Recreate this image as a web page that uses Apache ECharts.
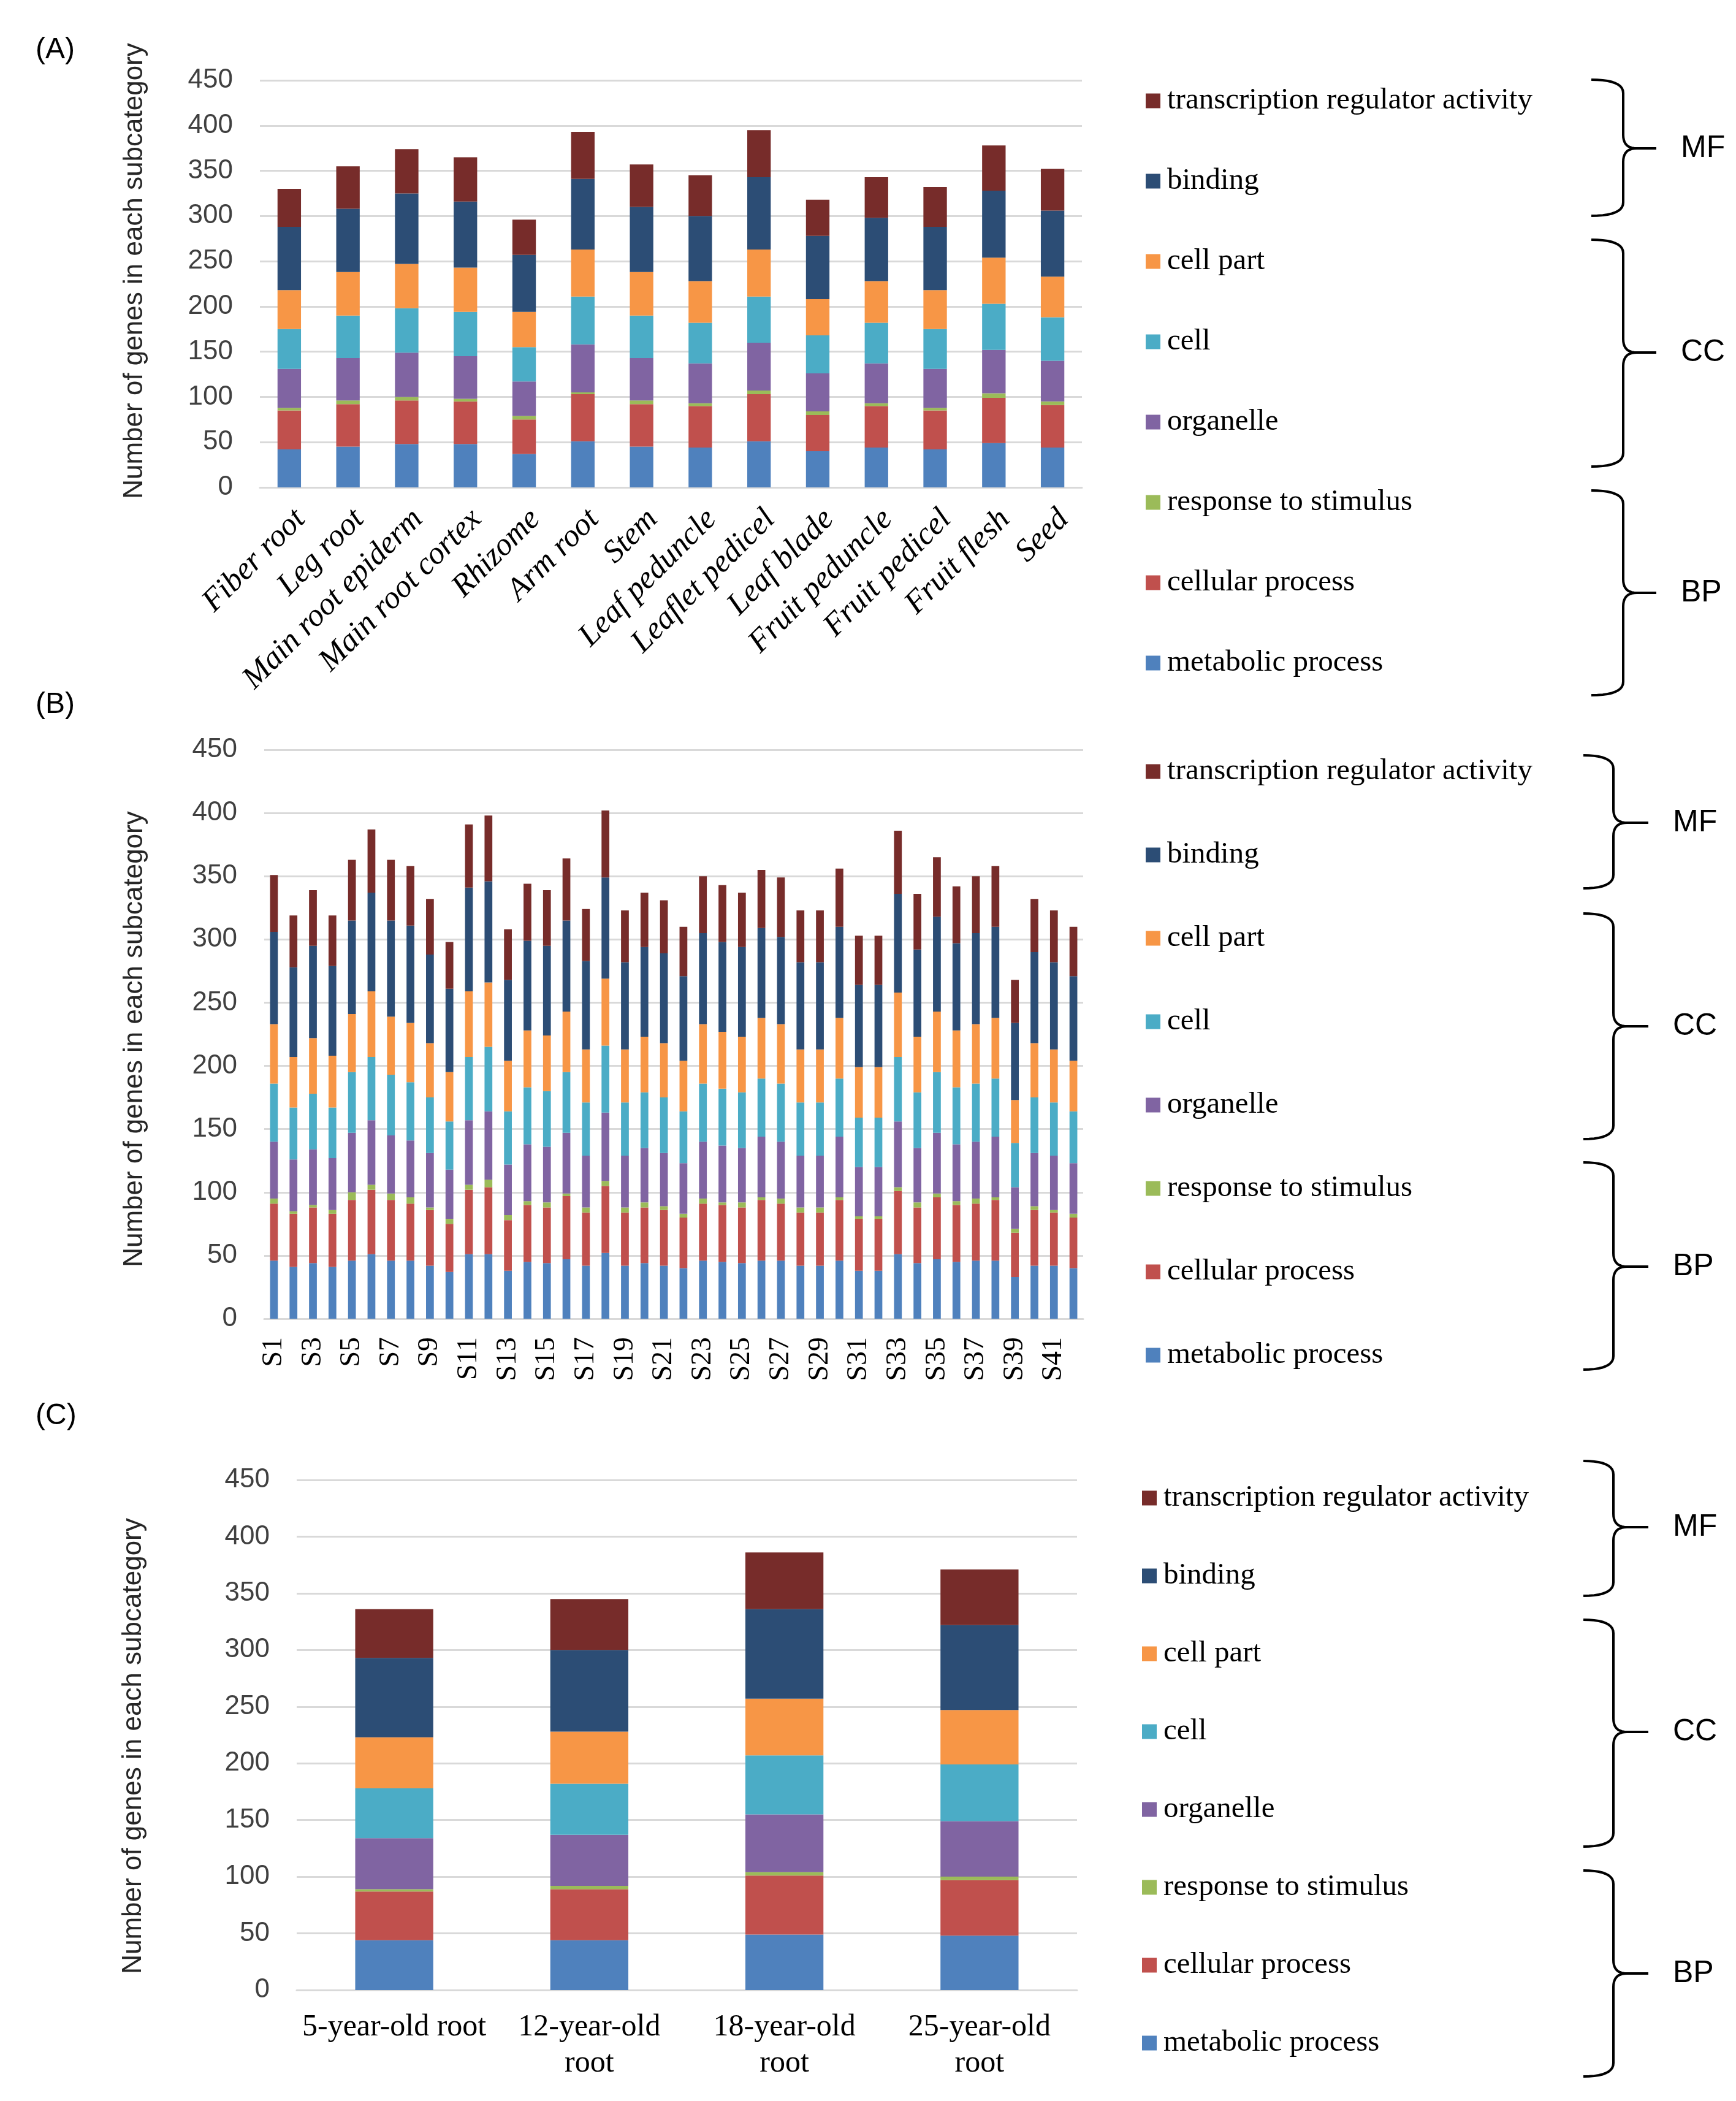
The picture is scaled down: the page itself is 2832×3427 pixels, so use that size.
<!DOCTYPE html>
<html>
<head>
<meta charset="utf-8">
<script src="https://cdn.jsdelivr.net/npm/echarts@6/dist/echarts.min.js"></script>
<style>html,body{margin:0;padding:0;background:#fff}#c{width:2832px;height:3427px}</style>
</head>
<body>
<div id="c"></div>
<script>
// ---------- data ----------
const seriesNames = ['metabolic process','cellular process','response to stimulus','organelle','cell','cell part','binding','transcription regulator activity'];
const legendOrder = ['transcription regulator activity','binding','cell part','cell','organelle','response to stimulus','cellular process','metabolic process'];
const yTicks = [0, 450, 50]; // min, max, interval

// Panel A
const categoriesA = ['Fiber root','Leg root','Main root epiderm','Main root cortex','Rhizome','Arm root','Stem','Leaf peduncle','Leaflet pedicel','Leaf blade','Fruit peduncle','Fruit pedicel','Fruit flesh','Seed'];
const metabolicA = [42,45,48,48,37,51,45,44,51,40,44,42,49,44];
const cellularA  = [43,47,48,47,38,52,47,46,52,40,46,43,50,47];
const responseA  = [3,4,4,3,4,2,4,3,4,4,3,3,5,4];
const organelleA = [43,47,49,47,38,53,47,44,53,42,44,43,48,45];
const cellA      = [44,47,49,49,38,53,47,45,51,42,45,44,51,48];
const cellPartA  = [43,48,49,49,39,52,48,46,52,40,46,43,51,45];
const bindingA   = [70,70,78,73,63,78,72,72,80,70,70,70,74,73];
const trA        = [42,47,49,49,39,52,47,45,52,40,45,44,50,46];

// Panel B
const categoriesB = ['S1','S2','S3','S4','S5','S6','S7','S8','S9','S10','S11','S12','S13','S14','S15','S16','S17','S18','S19','S20','S21','S22','S23','S24','S25','S26','S27','S28','S29','S30','S31','S32','S33','S34','S35','S36','S37','S38','S39','S40','S41','S42'];
const metabolicB = [46,41,44,41,46,51,46,46,42,37,51,51,38,45,44,47,42,52,42,44,42,40,46,45,44,46,46,42,42,46,38,38,51,44,47,45,46,46,33,42,42,40];
const cellularB  = [45,42,44,42,48,51,48,45,44,38,51,53,40,45,44,50,42,53,42,44,44,40,45,45,44,48,45,42,42,48,41,41,50,44,49,45,45,48,35,44,42,40];
const responseB  = [4,2,2,3,6,4,5,5,2,4,4,6,4,3,4,2,4,4,4,4,3,3,4,2,4,2,4,4,4,2,2,2,3,4,3,3,4,2,3,3,2,3];
const organelleB = [45,41,44,41,47,51,46,45,43,39,51,54,40,45,44,48,41,54,41,43,42,40,45,45,43,48,45,41,41,48,39,39,52,43,48,45,45,48,33,42,43,40];
const cellB      = [46,41,44,40,48,50,48,46,44,38,50,51,42,45,44,48,42,53,42,44,44,41,46,45,44,46,46,42,42,46,39,39,51,44,48,45,46,46,35,44,42,41];
const cellPartB  = [47,40,44,41,46,52,46,47,43,39,52,51,40,45,44,48,42,53,42,44,43,40,47,45,44,48,47,42,42,48,40,40,51,44,48,45,47,48,34,43,42,40];
const bindingB   = [73,71,73,71,74,78,76,77,70,66,82,80,64,71,71,72,70,80,69,71,71,67,72,71,71,71,69,69,69,72,65,65,78,69,75,69,72,72,61,72,69,67];
const trB        = [45,41,44,40,48,50,48,47,44,37,50,52,40,45,44,49,41,53,41,43,42,39,45,45,43,46,47,41,41,46,39,39,50,44,47,45,45,48,34,42,41,39];

// Panel C
const categoriesC = ['5-year-old root','12-year-old root','18-year-old root','25-year-old root'];
const tickLabelsC = ['5-year-old root','12-year-old\nroot','18-year-old\nroot','25-year-old\nroot'];
const metabolicC = [44,44,49,48];
const cellularC  = [43,45,52,49];
const responseC  = [2,3,3,3];
const organelleC = [45,45,51,49];
const cellC      = [44,45,52,50];
const cellPartC  = [45,46,50,48];
const bindingC   = [70,72,79,75];
const trC        = [43,45,50,49];

const panelTags = ['(A)','(B)','(C)'];
const groupNames = ['MF','CC','BP'];
const yTitle = 'Number of genes in each subcategory';

// ---------- styles ----------
const colors = ['#4F81BD','#C0504D','#9BBB59','#8064A2','#4BACC6','#F79646','#2C4D75','#772C2A'];
const SANS = 'Liberation Sans, Arial, sans-serif';
const SERIF = 'Liberation Serif, Times New Roman, serif';
const gridLine = '#D9D9D9';

const chart = echarts.init(document.getElementById('c'), null, {renderer:'canvas', width:2832, height:3427});

function panelSeries(idx, stack, arrays) {
  return arrays.map((arr, i) => ({
    name: seriesNames[i], type: 'bar', stack: stack,
    xAxisIndex: idx, yAxisIndex: idx, data: arr,
    barWidth: '40%', itemStyle: {color: colors[i]}, animation: false
  }));
}

function yAxisCfg(idx) {
  return {
    gridIndex: idx, type: 'value', min: yTicks[0], max: yTicks[1], interval: yTicks[2],
    axisLine: {show: false}, axisTick: {show: false},
    splitLine: {lineStyle: {color: gridLine, width: 3}},
    axisLabel: {fontFamily: SANS, fontSize: 44, color: '#404040', margin: 44}
  };
}
function xAxisBase(idx, data) {
  return {
    gridIndex: idx, type: 'category', data: data,
    axisLine: {lineStyle: {color: gridLine, width: 3}}, axisTick: {show: false}
  };
}

const xA = xAxisBase(0, categoriesA);
xA.axisLabel = {interval: 0, rotate: 45, fontFamily: SERIF, fontStyle: 'italic', fontSize: 52, color: '#000', margin: 26, verticalAlign: 'top'};
const xB = xAxisBase(1, categoriesB);
xB.axisLabel = {interval: 1, rotate: 90, fontFamily: SERIF, fontSize: 46, color: '#000', margin: 30};
const xC = xAxisBase(2, categoriesC);
xC.axisLabel = {interval: 0, fontFamily: SERIF, fontSize: 50, lineHeight: 59, color: '#000', margin: 31,
  formatter: (v, i) => tickLabelsC[i]};

function legendCfg(top, gap, left) {
  return {
    orient: 'vertical', left: left, top: top, padding: 0, itemGap: gap,
    itemWidth: 24, itemHeight: 24, icon: 'rect', selectedMode: false,
    data: legendOrder,
    textStyle: {fontFamily: SERIF, fontSize: 49, lineHeight: 48, color: '#000', padding: [0,0,0,6]}
  };
}

// curly brace as a polyline
function quad(pts, p0, c, p1) {
  for (let t = 0.1; t <= 1.0001; t += 0.1) {
    const a = (1-t)*(1-t), b = 2*(1-t)*t, d = t*t;
    pts.push([a*p0[0]+b*c[0]+d*p1[0], a*p0[1]+b*c[1]+d*p1[1]]);
  }
}
function brace(xl, xv, xt, top, mid, bot) {
  const r = 22, pts = [[xl, top]];
  quad(pts, [xl, top], [xv, top], [xv, top + r]);
  pts.push([xv, mid - r]);
  quad(pts, [xv, mid - r], [xv, mid], [xv + r, mid]);
  pts.push([xt, mid]);
  pts.push([xv + r, mid]);
  quad(pts, [xv + r, mid], [xv, mid], [xv, mid + r]);
  pts.push([xv, bot - r]);
  quad(pts, [xv, bot - r], [xv, bot], [xl, bot]);
  return {type: 'polyline', shape: {points: pts}, style: {stroke: '#000', lineWidth: 4, fill: null}, silent: true};
}
function label(text, x, y, size, align) {
  return {type: 'text', x: x, y: y, silent: true,
    style: {text: text, font: size + 'px ' + SANS, fill: '#000', align: align || 'left', verticalAlign: 'middle', textAlign: align || 'left', textVerticalAlign: 'middle'}};
}
function vTitle(x, y) {
  return {type: 'text', x: x, y: y, rotation: Math.PI/2, silent: true,
    style: {text: yTitle, font: '44px ' + SANS, fill: '#262626', align: 'center', verticalAlign: 'middle', textAlign: 'center', textVerticalAlign: 'middle'}};
}

const braceSets = [
  {xl: 2596, xv: 2648, xt: 2702, lx: 2742, groups: [[130,242,352],[391,575,761],[800,967,1134]]},
  {xl: 2583, xv: 2632, xt: 2689, lx: 2729, groups: [[1232,1342,1449],[1490,1674,1858],[1896,2066,2234]]},
  {xl: 2583, xv: 2632, xt: 2689, lx: 2729, groups: [[2383,2491,2603],[2642,2825,3012],[3051,3219,3387]]}
];
const graphics = [];
braceSets.forEach(b => {
  b.groups.forEach((g, i) => {
    graphics.push(brace(b.xl, b.xv, b.xt, g[0], g[1], g[2]));
    graphics.push(label(groupNames[i], b.lx, g[1], 50));
  });
});
graphics.push(label(panelTags[0], 58, 82, 48));
graphics.push(label(panelTags[1], 58, 1150, 48));
graphics.push(label(panelTags[2], 58, 2310, 48));
graphics.push(vTitle(220, 442));
graphics.push(vTitle(220, 1695));
graphics.push(vTitle(218, 2848));

const option = {
  backgroundColor: '#fff',
  animation: false,
  grid: [
    {left: 424, right: 1067, top: 131, height: 664},
    {left: 431, right: 1065, top: 1223, height: 928},
    {left: 484, right: 1075, top: 2414, height: 832}
  ],
  xAxis: [xA, xB, xC],
  yAxis: [yAxisCfg(0), yAxisCfg(1), yAxisCfg(2)],
  legend: [legendCfg(140, 82, 1869), legendCfg(1234, 87, 1869), legendCfg(2419, 78, 1863)],
  series: [].concat(
    panelSeries(0, 'A', [metabolicA, cellularA, responseA, organelleA, cellA, cellPartA, bindingA, trA]),
    panelSeries(1, 'B', [metabolicB, cellularB, responseB, organelleB, cellB, cellPartB, bindingB, trB]),
    panelSeries(2, 'C', [metabolicC, cellularC, responseC, organelleC, cellC, cellPartC, bindingC, trC])
  ),
  graphic: graphics
};
chart.setOption(option);
</script>
</body>
</html>
